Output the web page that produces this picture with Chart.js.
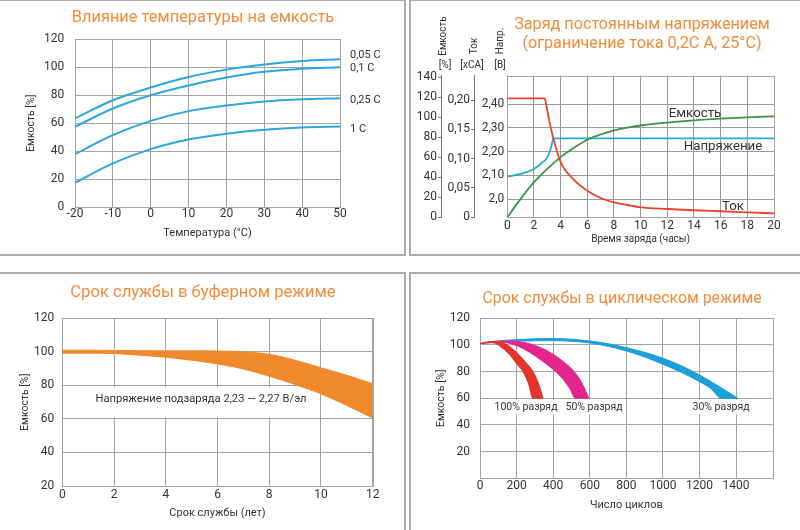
<!DOCTYPE html>
<html><head><meta charset="utf-8">
<script src="https://cdn.jsdelivr.net/npm/chart.js@4/dist/chart.umd.min.js"></script>
<style>
body{margin:0;width:800px;height:530px;position:relative;overflow:hidden;background:#fff;font-family:Roboto,"DejaVu Sans",sans-serif;}
.box{position:absolute;border:2px solid #ababab;box-sizing:border-box;}
canvas{position:absolute;}
.t{position:absolute;white-space:nowrap;line-height:1;transform:translate(-50%,-50%);color:#333;}
.l{position:absolute;white-space:nowrap;line-height:1;transform:translateY(-50%);color:#333;}
.r{position:absolute;white-space:nowrap;line-height:1;transform:translate(-50%,-50%) rotate(-90deg);color:#333;}
.ttl{color:#F08C3A;}
.wb{padding:2px 3px;}
</style></head><body>
<div class="box" style="left:-3px;top:-1px;width:409px;height:257px"></div>
<div class="box" style="left:409px;top:-1px;width:394px;height:257px"></div>
<div class="box" style="left:-3px;top:272px;width:409px;height:262px"></div>
<div class="box" style="left:409px;top:272px;width:394px;height:262px"></div>
<canvas id="c1" width="405" height="255" style="left:0;top:0;width:405px;height:255px"></canvas>
<canvas id="c2" width="390" height="255" style="left:410px;top:0;width:390px;height:255px"></canvas>
<canvas id="c3" width="405" height="258" style="left:0;top:272px;width:405px;height:258px"></canvas>
<canvas id="c4" width="390" height="258" style="left:410px;top:272px;width:390px;height:258px"></canvas>

<div class="t ttl" style="left:203px;top:17px;font-size:16.4px">Влияние температуры на емкость</div>
<div class="l" style="left:350px;top:54px;font-size:11px">0,05 C</div>
<div class="l" style="left:350px;top:67px;font-size:11px">0,1 C</div>
<div class="l" style="left:350px;top:99px;font-size:11px">0,25 C</div>
<div class="l" style="left:350px;top:128px;font-size:11px">1 C</div>

<div class="t ttl" style="left:642px;top:24px;font-size:16.2px">Заряд постоянным напряжением</div>
<div class="t ttl" style="left:642px;top:43px;font-size:16.2px">(ограничение тока 0,2C А, 25°C)</div>
<div class="r" style="left:443px;top:36px;font-size:10px">Емкость</div>
<div class="r" style="left:474px;top:46px;font-size:10px">Ток</div>
<div class="r" style="left:500px;top:41px;font-size:10px">Напр.</div>
<div class="t" style="left:445px;top:65px;font-size:10px">[%]</div>
<div class="t" style="left:472px;top:65px;font-size:10px">[xCA]</div>
<div class="t" style="left:500px;top:65px;font-size:10px">[В]</div>
<div class="t" style="left:695px;top:113px;font-size:13.3px">Емкость</div>
<div class="t" style="left:723px;top:146px;font-size:13.3px">Напряжение</div>
<div class="t" style="left:733px;top:206px;font-size:13.3px">Ток</div>

<div class="t ttl" style="left:203px;top:292px;font-size:16.6px">Срок службы в буферном режиме</div>
<div class="t wb" style="left:201px;top:402px;font-size:11.2px;padding:5.5px 4px 13px 4px">Напряжение подзаряда 2,23 — 2,27 В/эл</div>

<div class="t ttl" style="left:622px;top:298px;font-size:15.9px">Срок службы в циклическом режиме</div>
<div class="t wb" style="left:526px;top:407px;font-size:10.5px">100% разряд</div>
<div class="t wb" style="left:594px;top:407px;font-size:10.5px">50% разряд</div>
<div class="t wb" style="left:721px;top:407px;font-size:10.5px">30% разряд</div>

<script>
// ---------- Panel 1: temperature vs capacity ----------
const temps = [-20, -10, 0, 10, 20, 30, 40, 50];
const cap005 = [63.4, 76.4, 85.5, 93, 98.3, 102, 104.5, 105.7];
const cap01 = [57.4, 70.5, 80, 87, 92.6, 96.7, 99, 100];
const cap025 = [37.9, 51.4, 61.6, 68.6, 72.6, 75.5, 77.1, 77.9];
const cap1 = [17.4, 31.2, 41.4, 48.3, 52.4, 55.2, 56.9, 57.6];
const tempTicks = [-20, -10, 0, 10, 20, 30, 40, 50];
const tempLabels = ['-20', '-10', '0', '10', '20', '30', '40', '50'];
const capTicks1 = [0, 20, 40, 60, 80, 100, 120];
const capLabels1 = ['0', '20', '40', '60', '80', '100', '120'];

// ---------- Panel 2: constant voltage charge ----------
const hourTicks = [0, 2, 4, 6, 8, 10, 12, 14, 16, 18, 20];
const hourLabels = ['0', '2', '4', '6', '8', '10', '12', '14', '16', '18', '20'];
const chgCapT = [0, 1, 2, 3, 4, 5, 6, 7, 8, 9, 10, 12, 14, 16, 18, 20];
const chgCap = [0, 18.4, 35.1, 48.5, 60.2, 69.6, 77.6, 82.8, 87, 89.7, 91.8, 94.7, 97, 98.7, 100, 101];
const curFlatT = [0, 2.83];
const curFlat = [0.203, 0.203];
const curDecayT = [2.83, 3.2, 3.45, 4, 5, 6, 7, 8, 9, 10, 12, 14, 16, 18, 20];
const curDecay = [0.203, 0.159, 0.135, 0.094, 0.064, 0.0455, 0.033, 0.0256, 0.021, 0.0171, 0.0142, 0.012, 0.0103, 0.0085, 0.0068];
const voltRiseT = [0, 1, 2, 2.5, 3, 3.25, 3.45];
const voltRise = [2.095, 2.106, 2.127, 2.148, 2.176, 2.211, 2.256];
const voltFlatT = [3.45, 20];
const voltFlat = [2.256, 2.256];
const capTicks2 = [0, 20, 40, 60, 80, 100, 120, 140];
const capLabels2 = ['0', '20', '40', '60', '80', '100', '120', '140'];
const curTicks = [0, 0.05, 0.1, 0.15, 0.2];
const curLabels = ['0', '0,05', '0,10', '0,15', '0,20'];
const voltTicks = [2.0, 2.1, 2.2, 2.3, 2.4];
const voltLabels = ['2,0', '2,10', '2,20', '2,30', '2,40'];

// ---------- Panel 3: float service life ----------
const years = [0, 1, 2, 3, 4, 5, 6, 7, 8, 9, 10, 11, 12];
const floatUpper = [101, 101, 100.8, 100.7, 100.6, 100.6, 100.5, 100, 98.5, 95, 90.5, 86, 81];
const floatLower = [99.2, 99.2, 99, 98, 96.8, 95, 92.8, 89.8, 85.5, 80.5, 75, 68, 60.5];
const yearTicks = [0, 2, 4, 6, 8, 10, 12];
const yearLabels = ['0', '2', '4', '6', '8', '10', '12'];
const capTicks3 = [20, 40, 60, 80, 100, 120];
const capLabels3 = ['20', '40', '60', '80', '100', '120'];

// ---------- Panel 4: cyclic service life ----------
const red100OuterC = [0, 50, 90, 130, 170, 210, 250, 290, 320, 345];
const red100Outer = [101, 102.5, 102.8, 101.5, 98, 93, 87, 80, 71, 60];
const red100InnerC = [0, 40, 75, 120, 160, 200, 235, 265, 290, 345];
const red100Inner = [101, 101.9, 101.6, 98, 93, 86, 80, 71, 60, 60];
const pink50OuterC = [0, 60, 150, 210, 270, 340, 400, 460, 515, 555, 595];
const pink50Outer = [101, 102.3, 103, 102.5, 101, 97.5, 93, 87, 80, 72, 60];
const pink50InnerC = [0, 60, 120, 180, 240, 300, 360, 410, 450, 490, 522, 595];
const pink50Inner = [101, 102.1, 102.2, 100.5, 97, 92, 86, 80.5, 75, 67.5, 60, 60];
const blue30OuterC = [0, 100, 200, 300, 400, 500, 600, 700, 800, 900, 1000, 1100, 1200, 1300, 1410];
const blue30Outer = [101, 103, 104, 104.6, 104.8, 104.3, 103, 101, 98, 94.5, 90, 84.5, 77.5, 69.5, 60];
const blue30InnerC = [0, 100, 200, 300, 400, 500, 600, 700, 800, 900, 1000, 1100, 1200, 1260, 1320, 1410];
const blue30Inner = [101, 102, 102.8, 103.2, 103.3, 102.8, 101.5, 99, 95.5, 91, 85.5, 79.5, 72.5, 67.5, 60, 60];
const cycleTicks = [0, 200, 400, 600, 800, 1000, 1200, 1400];
const cycleLabels = ['0', '200', '400', '600', '800', '1000', '1200', '1400'];
const capTicks4 = [20, 40, 60, 80, 100, 120];
const capLabels4 = ['20', '40', '60', '80', '100', '120'];

// ---------- helpers ----------
Chart.defaults.font.family = 'Roboto';
Chart.defaults.color = '#333';
const GRID = '#a3a3a3';
const pts = (xs, ys) => xs.map((x, i) => ({x: x, y: ys[i]}));
const frame = {
  id: 'frame',
  beforeDatasetsDraw(chart) {
    const {ctx, chartArea: a} = chart;
    ctx.save();
    ctx.strokeStyle = GRID; ctx.lineWidth = 1;
    const l = Math.round(a.left), t = Math.round(a.top), r = Math.round(a.right), b = Math.round(a.bottom);
    ctx.strokeRect(l + 0.5, t + 0.5, r - l, b - t);
    // white boxes behind the in-plot annotations (hide grid lines, keep data marks on top)
    const cr = chart.canvas.getBoundingClientRect();
    ctx.fillStyle = '#fff';
    document.querySelectorAll('.wb').forEach(el => {
      const r2 = el.getBoundingClientRect();
      const x = r2.left - cr.left, y = r2.top - cr.top;
      if (x + r2.width > 0 && x < cr.width && y + r2.height > 0 && y < cr.height) ctx.fillRect(x, y, r2.width, r2.height);
    });
    ctx.restore();
  }
};
function line(xs, ys, color, extra) {
  return Object.assign({data: pts(xs, ys), borderColor: color, backgroundColor: color, borderWidth: 2,
    pointRadius: 0, fill: false, cubicInterpolationMode: 'monotone'}, extra || {});
}
function axis(o) {
  return {
    type: 'linear', axis: o.axis, min: o.min, max: o.max, position: o.pos, weight: o.weight || 0, bounds: 'data',
    afterBuildTicks: sc => { sc.ticks = o.ticks.map(v => ({value: v})); },
    afterFit: sc => { if (o.width !== undefined) sc.width = o.width; if (o.height !== undefined) sc.height = o.height; },
    ticks: {autoSkip: false, maxRotation: 0, minRotation: 0, padding: o.pad, font: {size: o.fs || 12}, color: '#333',
      callback: (v, i) => o.labels[i]},
    grid: {color: o.gridColor || GRID, lineWidth: 1, drawOnChartArea: o.onArea !== false, drawTicks: !!o.tickLen, tickLength: o.tickLen || 0},
    border: {display: true, color: o.borderColor || GRID, width: 1},
    title: o.title ? {display: true, text: o.title, font: {size: o.tfs || 10.5}, color: '#333', padding: o.tpad} : {display: false}
  };
}
function opts(padding, scales) {
  return {responsive: false, animation: false, devicePixelRatio: 1, layout: {padding: padding},
    plugins: {legend: {display: false}, tooltip: {enabled: false}, title: {display: false}},
    scales: scales};
}

// Panel 1
const BLUE1 = '#2BA6DE';
new Chart(document.getElementById('c1'), {
  type: 'line',
  data: {datasets: [line(temps, cap005, BLUE1), line(temps, cap01, BLUE1), line(temps, cap025, BLUE1), line(temps, cap1, BLUE1)]},
  options: opts({left: 0, right: 65, top: 39.3, bottom: 0}, {
    x: axis({axis: 'x', pos: 'bottom', min: -20, max: 50, ticks: tempTicks, labels: tempLabels, height: 48, pad: 0,
      title: 'Температура (°С)', tfs: 11, tpad: {top: 0, bottom: 15.1}}),
    y: axis({axis: 'y', pos: 'left', min: 0, max: 120, ticks: capTicks1, labels: capLabels1, width: 75, pad: 10.7,
      title: 'Емкость [%]', tpad: {top: 24.7, bottom: 0}})
  }),
  plugins: [frame]
});

// Panel 2
const RED2 = '#E8432E', GREEN2 = '#3C9445', BLUE2 = '#2AA8E0';
new Chart(document.getElementById('c2'), {
  type: 'line',
  data: {datasets: [
    line(curFlatT, curFlat, RED2, {yAxisID: 'yCur', borderWidth: 1.8}),
    line(curDecayT, curDecay, RED2, {yAxisID: 'yCur', borderWidth: 1.8}),
    line(chgCapT, chgCap, GREEN2, {yAxisID: 'yCap', borderWidth: 1.8}),
    line(voltRiseT, voltRise, BLUE2, {yAxisID: 'yV', borderWidth: 1.8}),
    line(voltFlatT, voltFlat, BLUE2, {yAxisID: 'yV', borderWidth: 1.8})
  ]},
  options: opts({left: 0, right: 26, top: 75.7, bottom: 0}, {
    x: axis({axis: 'x', pos: 'bottom', min: 0, max: 20, ticks: hourTicks, labels: hourLabels, height: 37.7, pad: 1.5,
      title: 'Время заряда (часы)', tfs: 10, tpad: {top: 0, bottom: 9.7}, gridColor: '#999', borderColor: '#999'}),
    yV: axis({axis: 'y', pos: 'left', weight: 0, min: 1.924, max: 2.519, ticks: voltTicks, labels: voltLabels, width: 33.3, pad: 3,
      gridColor: '#999', borderColor: '#999'}),
    yCur: axis({axis: 'y', pos: 'left', weight: 1, min: 0, max: 0.2416, ticks: curTicks, labels: curLabels, width: 33, pad: 1,
      tickLen: 3, onArea: false, gridColor: '#777', borderColor: '#777'}),
    yCap: axis({axis: 'y', pos: 'left', weight: 2, min: 0, max: 141.6, ticks: capTicks2, labels: capLabels2, width: 31, pad: 1,
      tickLen: 3, onArea: false, gridColor: '#777', borderColor: '#777'})
  }),
  plugins: [frame]
});

// Panel 3
const ORANGE3 = '#F0892C';
new Chart(document.getElementById('c3'), {
  type: 'line',
  data: {datasets: [
    line(years, floatUpper, ORANGE3, {borderWidth: 1}),
    line(years, floatLower, ORANGE3, {borderWidth: 1, fill: '-1'})
  ]},
  options: opts({left: 0, right: 32.3, top: 46.3, bottom: 0}, {
    x: axis({axis: 'x', pos: 'bottom', min: 0, max: 12, ticks: yearTicks, labels: yearLabels, height: 44, pad: 1.8,
      title: 'Срок службы (лет)', tfs: 11, tpad: {top: 0, bottom: 10.1}}),
    y: axis({axis: 'y', pos: 'left', min: 20, max: 120, ticks: capTicks3, labels: capLabels3, width: 62.3, pad: 8,
      title: 'Емкость [%]', tpad: {top: 18.7, bottom: 0}})
  }),
  plugins: [frame]
});

// Panel 4
const RED4 = '#E4332A', PINK4 = '#E3268B', BLUE4 = '#1B9FD8';
new Chart(document.getElementById('c4'), {
  type: 'line',
  data: {datasets: [
    line(red100OuterC, red100Outer, RED4, {borderWidth: 1}),
    line(red100InnerC, red100Inner, RED4, {borderWidth: 1, fill: '-1'}),
    line(pink50OuterC, pink50Outer, PINK4, {borderWidth: 1}),
    line(pink50InnerC, pink50Inner, PINK4, {borderWidth: 1, fill: '-1'}),
    line(blue30OuterC, blue30Outer, BLUE4, {borderWidth: 1}),
    line(blue30InnerC, blue30Inner, BLUE4, {borderWidth: 1, fill: '-1'})
  ]},
  options: opts({left: 0, right: 27.3, top: 46.3, bottom: 0}, {
    x: axis({axis: 'x', pos: 'bottom', min: 0, max: 1600, ticks: cycleTicks, labels: cycleLabels, height: 51.7, pad: 0.5,
      title: 'Число циклов', tfs: 11, tpad: {top: 0, bottom: 18.4}}),
    y: axis({axis: 'y', pos: 'left', min: 0, max: 120, ticks: capTicks4, labels: capLabels4, width: 70, pad: 10,
      title: 'Емкость [%]', tpad: {top: 25.4, bottom: 0}})
  }),
  plugins: [frame]
});
</script>
</body></html>
